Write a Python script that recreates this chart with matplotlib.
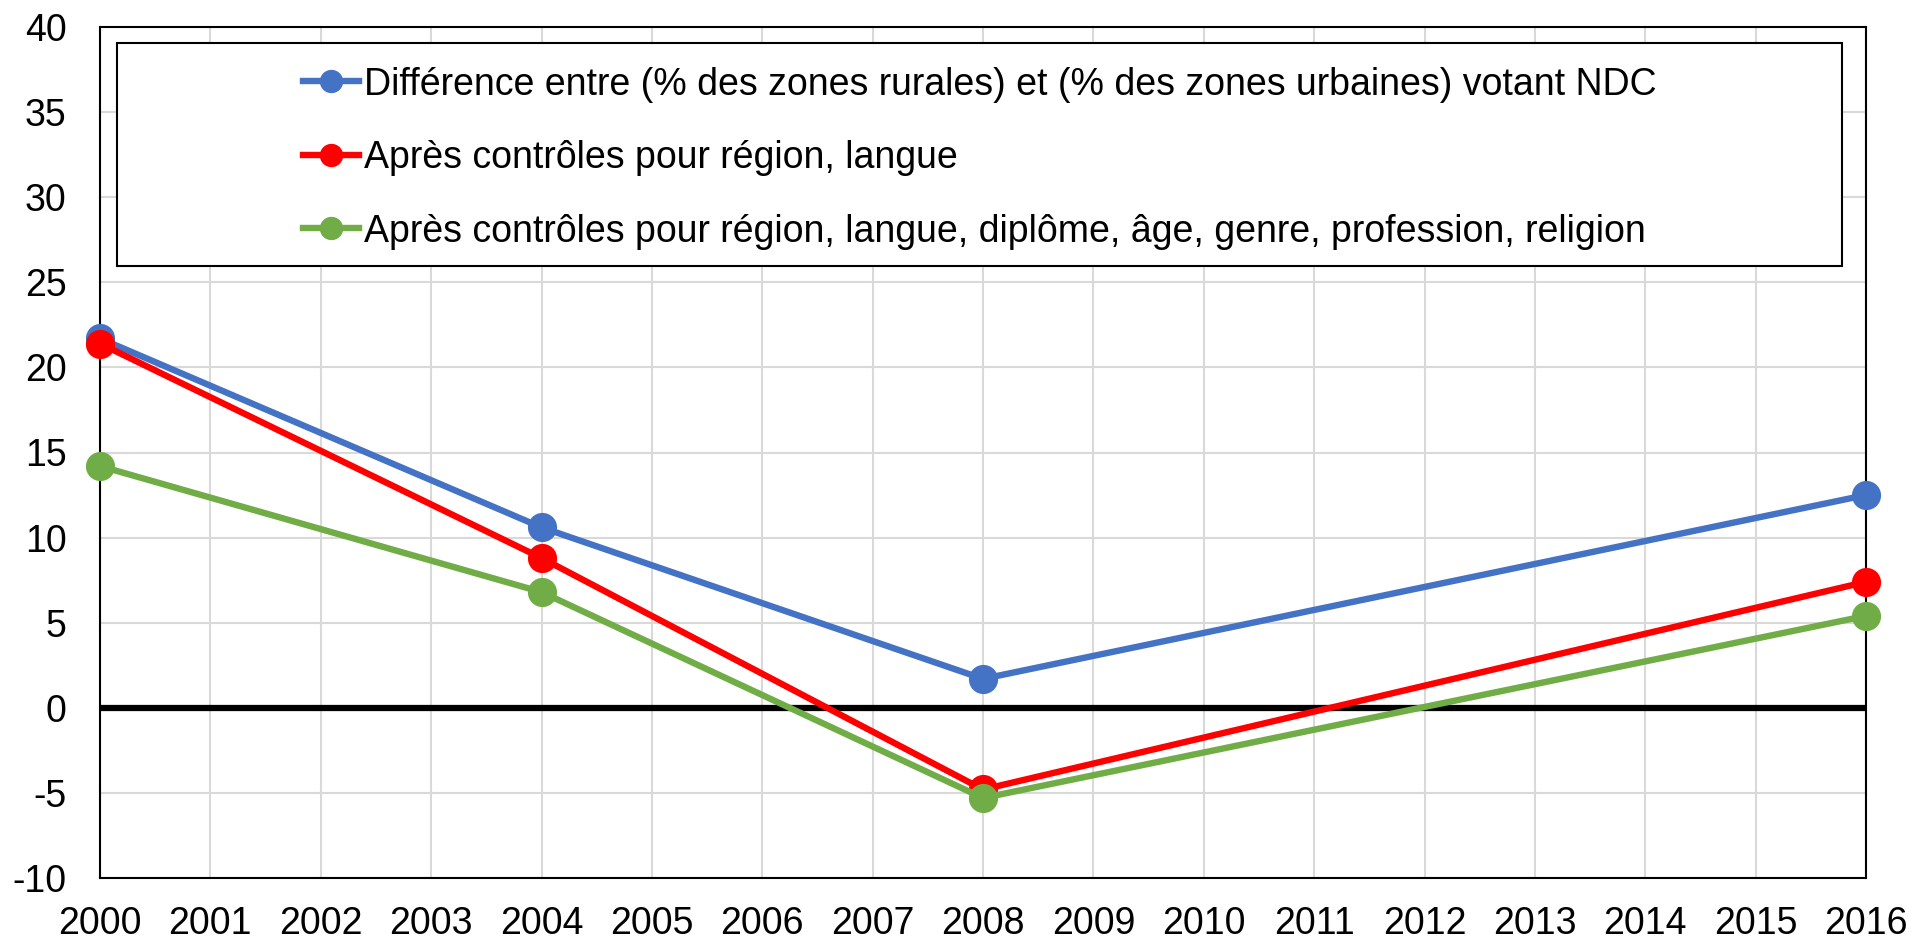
import numpy as np
import matplotlib
matplotlib.use('Agg')
import matplotlib.pyplot as plt
from matplotlib.patches import Rectangle

plt.rcParams['font.family'] = ['Liberation Sans', 'DejaVu Sans']
plt.rcParams['axes.unicode_minus'] = False

# Data
years = [2000, 2004, 2008, 2016]
raw_gap = [21.7, 10.6, 1.7, 12.5]
ctrl_region_lang = [21.4, 8.8, -4.8, 7.4]
ctrl_all = [14.2, 6.8, -5.3, 5.4]
labels = [
    "Différence entre (% des zones rurales) et (% des zones urbaines) votant NDC",
    "Après contrôles pour région, langue",
    "Après contrôles pour région, langue, diplôme, âge, genre, profession, religion",
]
colors = ['#4472C4', '#FF0000', '#70AD47']
xticks = list(range(2000, 2017))
yticks = list(range(-10, 41, 5))

fig = plt.figure(figsize=(19.13, 9.51), dpi=100)
ax = fig.add_axes([100 / 1913, 73 / 951, 1766 / 1913, 851 / 951])

ax.axhline(0, color='black', lw=4.5, zorder=2)
for vals, lab, col in zip([raw_gap, ctrl_region_lang, ctrl_all], labels, colors):
    ax.plot(years, vals, color=col, lw=4.6, marker='o', markersize=21,
            markeredgewidth=0, label=lab, zorder=3, clip_on=False)

ax.set_xlim(2000, 2016)
ax.set_ylim(-10, 40)
ax.set_xticks(xticks)
ax.set_yticks(yticks)
ax.tick_params(axis='both', length=0, labelsize=27)
ax.tick_params(axis='x', pad=20.5)
ax.tick_params(axis='y', pad=24)
ax.grid(True, color='#d9d9d9', lw=1.5, zorder=0)
ax.set_axisbelow(True)
for sp in ax.spines.values():
    sp.set_color('black')
    sp.set_linewidth(1.5)

# legend frame drawn separately, contents centred inside it
ax.add_patch(Rectangle((0.0096, 0.7192), 0.9768, 0.262, transform=ax.transAxes,
                       facecolor='white', edgecolor='black', lw=1.5, zorder=4))
leg = ax.legend(loc='center', bbox_to_anchor=(0.498, 0.846), frameon=False,
                fontsize=27, handlelength=1.5, handletextpad=0.12,
                labelspacing=1.0, markerscale=0.8, borderpad=0)
leg.set_zorder(5)

fig.savefig('out.png', dpi=100)
